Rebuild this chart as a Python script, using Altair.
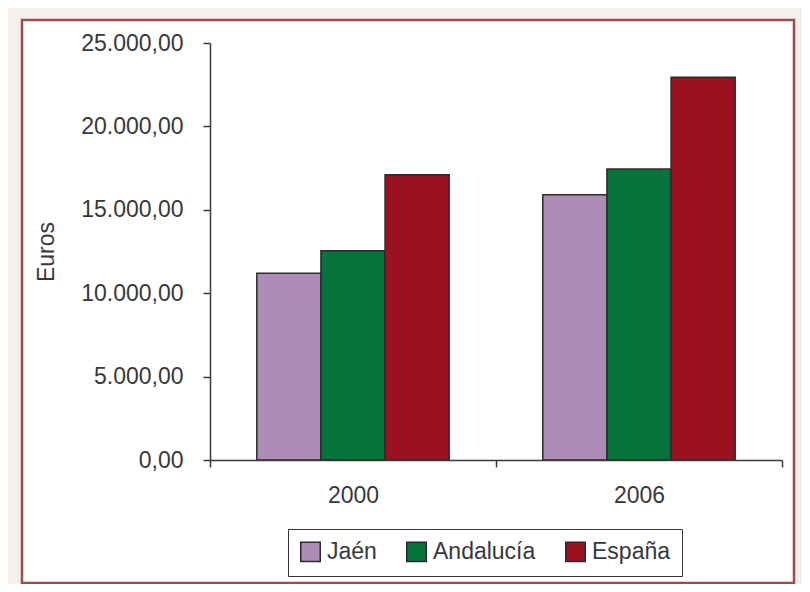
import altair as alt
import pandas as pd

years = ["2000", "2006"]
regions = ["Jaén", "Andalucía", "España"]
jaen = [11200, 15900]
andalucia = [12550, 17450]
espana = [17100, 22950]
colors = ["#AD8DB8", "#05733A", "#9A111F"]
y_ticks = [0, 5000, 10000, 15000, 20000, 25000]

rows = []
for i, yr in enumerate(years):
    for reg, vals in zip(regions, [jaen, andalucia, espana]):
        rows.append({"Año": yr, "Región": reg, "Euros": vals[i]})
df = pd.DataFrame(rows)

FONT = "Liberation Sans"
TXT = "#383838"
AX = "#3a3a3a"
FS = 23

frame = alt.Chart(pd.DataFrame({"k": [0]})).mark_rect(
    fill="white", stroke="#A0484C", strokeWidth=2.5
).encode(
    x=alt.value(-188), x2=alt.value(584), y=alt.value(-23), y2=alt.value(540)
)

label_expr = ("replace(replace(replace(format(datum.value, ',.2f'), ',', '#'), '.', ','), '#', '.')")

bars = alt.Chart(df).mark_bar(stroke="#2b2b2b", strokeWidth=1.5, opacity=1).encode(
    x=alt.X(
        "Año:N", sort=years,
        scale=alt.Scale(paddingInner=0, paddingOuter=0),
        axis=alt.Axis(
            title=None, labelAngle=0, tickBand="extent", ticks=True, tickSize=7,
            labelPadding=17, labelFontSize=FS, labelFont=FONT, labelColor=TXT,
            domainColor=AX, tickColor=AX, domainWidth=1.5, tickWidth=1.5,
            grid=False, zindex=1,
        ),
    ),
    xOffset=alt.XOffset(
        "Región:N", sort=regions,
        scale=alt.Scale(paddingInner=0, paddingOuter=0.73),
    ),
    y=alt.Y(
        "Euros:Q",
        scale=alt.Scale(domain=[0, 25000], nice=False),
        axis=alt.Axis(
            values=y_ticks, labelExpr=label_expr, grid=False,
            title="Euros", titleAngle=-90, titleX=-164, titleY=208.5,
            titleAlign="center", titleBaseline="middle",
            titleFont=FONT, titleFontSize=FS, titleFontWeight="normal", titleColor=TXT,
            labelFont=FONT, labelFontSize=FS, labelColor=TXT, labelPadding=20,
            tickSize=7, domainColor=AX, tickColor=AX, domainWidth=1.5, tickWidth=1.5,
            zindex=1,
        ),
    ),
    color=alt.Color(
        "Región:N", sort=regions,
        scale=alt.Scale(domain=regions, range=colors),
        legend=alt.Legend(
            title=None, orient="none", legendX=78, legendY=486,
            direction="horizontal", columns=3,
            symbolType="square", symbolSize=380, symbolStrokeColor="#2b2b2b",
            symbolStrokeWidth=1.5, symbolOpacity=1,
            labelFont=FONT, labelFontSize=FS, labelColor=TXT, labelOffset=5,
            strokeColor="#333333", fillColor="white", padding=11, columnPadding=26,
            zindex=1,
        ),
    ),
)

chart = alt.layer(frame, bars).properties(
    width=572, height=417,
    autosize=alt.AutoSizeParams(type="none"),
    padding={"left": 202, "top": 35, "right": 20, "bottom": 124},
    background="#F5F0EB",
).configure_view(stroke=None)

chart.save("out.html", embed_options={"renderer": "svg", "actions": False})
